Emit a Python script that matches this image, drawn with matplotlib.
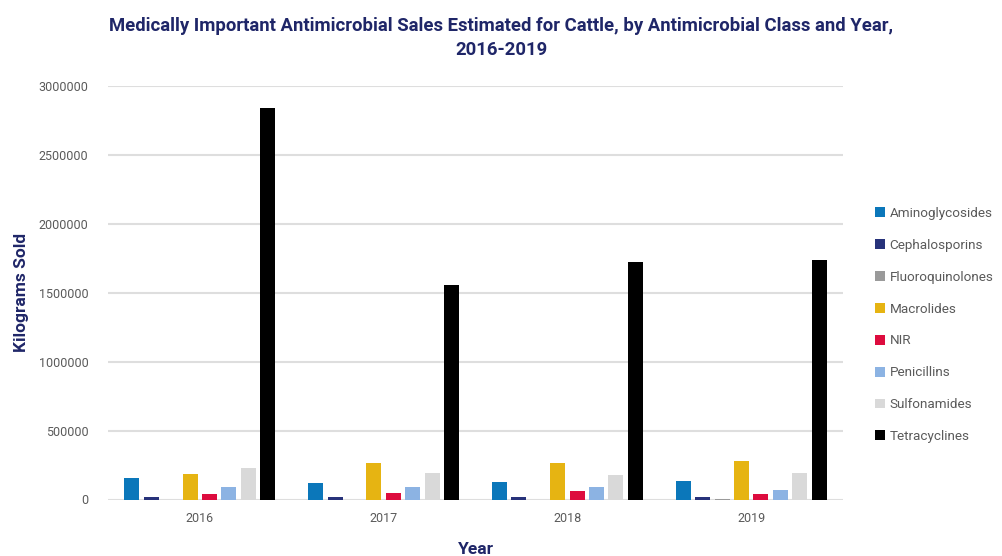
import matplotlib
matplotlib.use("Agg")
import matplotlib.pyplot as plt
import numpy as np
from matplotlib.patches import Patch

plt.rcParams['font.family'] = ['Roboto', 'DejaVu Sans']

years = ["2016", "2017", "2018", "2019"]
classes = ["Aminoglycosides", "Cephalosporins", "Fluoroquinolones", "Macrolides",
           "NIR", "Penicillins", "Sulfonamides", "Tetracyclines"]

aminoglycosides = [154000, 118000, 129000, 134000]
cephalosporins = [18000, 18000, 17000, 17000]
fluoroquinolones = [0, 0, 0, 6000]
macrolides = [185000, 267000, 267000, 279000]
nir = [42000, 49000, 62000, 42000]
penicillins = [93000, 89000, 89000, 69000]
sulfonamides = [229000, 190000, 180000, 190000]
tetracyclines = [2841000, 1557000, 1723000, 1738000]

series = [aminoglycosides, cephalosporins, fluoroquinolones, macrolides,
          nir, penicillins, sulfonamides, tetracyclines]
colors = ["#0b77ba", "#27327a", "#9a9a9a", "#e6b412",
          "#dd0c3e", "#8cb3e3", "#d9d9d9", "#000000"]

navy = "#1f2668"
tick_gray = "#5a5a5a"
grid_gray = "#dedede"

fig = plt.figure(figsize=(10.03, 5.56), dpi=100)
ax = fig.add_axes([108 / 1003, 1 - 499.5 / 556, (843 - 108) / 1003, (499.5 - 86) / 556])

x = np.arange(len(years))
slot = 0.1056
width = 0.0815
n = len(series)
for i, (vals, col) in enumerate(zip(series, colors)):
    ax.bar(x + (i - (n - 1) / 2) * slot, vals, width=width, color=col, zorder=3)

ax.set_xlim(-0.5, len(years) - 0.5)
ax.set_ylim(0, 3000000)
ax.set_yticks(np.arange(0, 3000001, 500000))
ax.set_yticklabels([str(v) for v in range(0, 3000001, 500000)])
ax.set_xticks(x)
ax.set_xticklabels(years)
ax.tick_params(axis='both', length=0, labelsize=9, labelcolor=tick_gray)
ax.tick_params(axis='y', pad=14)
ax.tick_params(axis='x', pad=9)
ax.grid(axis='y', color=grid_gray, linewidth=1.5, zorder=0)
for s in ax.spines.values():
    s.set_visible(False)

ax.set_ylabel("Kilograms Sold", fontsize=12.5, fontweight='bold', color=navy, labelpad=7)
ax.set_xlabel("Year", fontsize=12.5, fontweight='bold', color=navy, labelpad=12)

fig.text(0.5, 1 - 38 / 556, "Medically Important Antimicrobial Sales Estimated for Cattle, by Antimicrobial Class and Year,\n2016-2019",
         ha='center', va='center', fontsize=13.3, fontweight='bold', color=navy, linespacing=1.45)

handles = [Patch(facecolor=c, edgecolor='none') for c in colors]
leg = fig.legend(handles, classes, loc='center left', bbox_to_anchor=(868 / 1003, 1 - 325 / 556),
                 frameon=False, fontsize=9.7, handlelength=0.75, handleheight=0.75,
                 handletextpad=0.35, labelspacing=1.4, borderpad=0)
for t in leg.get_texts():
    t.set_color(tick_gray)

fig.savefig("out.png", dpi=100, facecolor='white')
